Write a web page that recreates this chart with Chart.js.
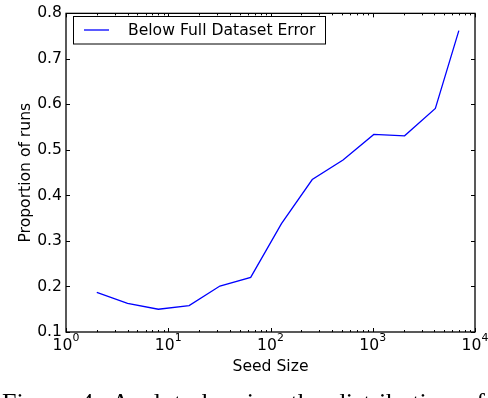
<!DOCTYPE html>
<html>
<head>
<meta charset="UTF-8">
<script src="https://cdn.jsdelivr.net/npm/chart.js@4.4.1/dist/chart.umd.min.js"></script>
<style>
html, body { margin:0; padding:0; background:#fff; }
#wrap { width:488px; height:398px; }
</style>
</head>
<body>
<div id="wrap"><canvas id="canvas" width="488" height="398"></canvas></div>
<script>
// values
var seedSizes = [2, 4, 8, 16, 32, 64, 128, 256, 512, 1024, 2048, 4096, 6950];
var belowFull = [0.187, 0.163, 0.150, 0.158, 0.201, 0.220, 0.338, 0.435, 0.478, 0.534, 0.531, 0.591, 0.762];
var xDecades = [1, 10, 100, 1000, 10000];
var xExps = ['0', '1', '2', '3', '4'];
var yTicks = [0.1, 0.2, 0.3, 0.4, 0.5, 0.6, 0.7, 0.8];
var seriesName = 'Below Full Dataset Error';
var xTitle = 'Seed Size';
var yTitle = 'Proportion of runs';
var caption = 'Figure 4: A plot showing the distribution of';

var FONT = '"DejaVu Sans", sans-serif';
var FS = 15.6;

var points = seedSizes.map(function (s, i) { return { x: s, y: belowFull[i] }; });

// ticks, frame, x labels, titles, legend, caption
var decor = {
    id: 'decor',
    afterDraw: function (chart) {
        var ctx = chart.ctx;
        var a = chart.chartArea;
        var xs = chart.scales.x, ys = chart.scales.y;
        ctx.save();
        ctx.strokeStyle = '#000';
        ctx.lineWidth = 1;
        ctx.beginPath();
        // y major ticks, left and right, inward
        yTicks.forEach(function (v) {
            var p = Math.round(ys.getPixelForValue(v)) + 0.5;
            ctx.moveTo(a.left, p); ctx.lineTo(a.left + 4, p);
            ctx.moveTo(a.right, p); ctx.lineTo(a.right - 4, p);
        });
        // x major and minor ticks, top and bottom
        xDecades.forEach(function (d, i) {
            var p = Math.round(xs.getPixelForValue(d)) + 0.5;
            ctx.moveTo(p, a.bottom); ctx.lineTo(p, a.bottom - 4);
            ctx.moveTo(p, a.top); ctx.lineTo(p, a.top + 4);
            if (i < xDecades.length - 1) {
                for (var m = 2; m <= 9; m++) {
                    var q = Math.round(xs.getPixelForValue(d * m)) + 0.5;
                    ctx.moveTo(q, a.bottom); ctx.lineTo(q, a.bottom - 2);
                    ctx.moveTo(q, a.top); ctx.lineTo(q, a.top + 2);
                }
            }
        });
        ctx.stroke();
        // frame
        ctx.lineWidth = 1.3;
        ctx.strokeRect(a.left, a.top, a.right - a.left, a.bottom - a.top);

        ctx.fillStyle = '#000';
        // x tick labels 10^n
        ctx.textBaseline = 'alphabetic';
        ctx.textAlign = 'left';
        xDecades.forEach(function (d, i) {
            var p = xs.getPixelForValue(d);
            ctx.font = FS + 'px ' + FONT;
            var w1 = ctx.measureText('10').width;
            ctx.font = (FS * 0.7) + 'px ' + FONT;
            var w2 = ctx.measureText(xExps[i]).width;
            var x0 = p - (w1 + w2) / 2;
            ctx.font = FS + 'px ' + FONT;
            ctx.fillText('10', x0, 349.5);
            ctx.font = (FS * 0.7) + 'px ' + FONT;
            ctx.fillText(xExps[i], x0 + w1, 341);
        });
        // axis titles
        ctx.font = FS + 'px ' + FONT;
        ctx.textAlign = 'center';
        ctx.fillText(xTitle, (a.left + a.right) / 2, 371);
        ctx.save();
        ctx.translate(29.5, (a.top + a.bottom) / 2);
        ctx.rotate(-Math.PI / 2);
        ctx.fillText(yTitle, 0, 0);
        ctx.restore();

        // legend
        ctx.fillStyle = '#fff';
        ctx.fillRect(73, 16, 252, 28);
        ctx.lineWidth = 1;
        ctx.strokeStyle = '#000';
        ctx.strokeRect(73.5, 16.5, 252, 27.5);
        ctx.strokeStyle = '#0000ff';
        ctx.lineWidth = 1.3;
        ctx.beginPath();
        ctx.moveTo(84, 30); ctx.lineTo(109, 30);
        ctx.stroke();
        ctx.fillStyle = '#000';
        ctx.textAlign = 'left';
        ctx.textBaseline = 'middle';
        ctx.fillText(seriesName, 128, 30.5);

        // caption, cut off by the bottom edge
        ctx.font = '26px "Liberation Serif", serif';
        ctx.textBaseline = 'alphabetic';
        var words = caption.split(' ');
        var tot = 0;
        words.forEach(function (w) { tot += ctx.measureText(w).width; });
        var gap = (485 - 2 - tot) / (words.length - 1);
        var cx = 2;
        words.forEach(function (w) {
            ctx.fillText(w, cx, 411);
            cx += ctx.measureText(w).width + gap;
        });
        ctx.restore();
    }
};

new Chart(document.getElementById('canvas').getContext('2d'), {
    type: 'line',
    data: {
        datasets: [{
            label: seriesName,
            data: points,
            borderColor: '#0000ff',
            borderWidth: 1.3,
            pointRadius: 0,
            fill: false,
            tension: 0
        }]
    },
    options: {
        responsive: false,
        animation: false,
        devicePixelRatio: 1,
        layout: { padding: { left: 0, right: 13, top: 8, bottom: 0 } },
        plugins: { legend: { display: false }, tooltip: { enabled: false } },
        scales: {
            x: {
                type: 'logarithmic',
                min: 1, max: 10000,
                grid: { display: false },
                border: { display: false },
                ticks: { display: false },
                afterFit: function (s) { s.height = 66; }
            },
            y: {
                min: 0.1, max: 0.8,
                grid: { display: false, drawTicks: false },
                border: { display: false },
                afterBuildTicks: function (s) { s.ticks = yTicks.map(function (v) { return { value: v }; }); },
                ticks: {
                    padding: 4,
                    color: '#000',
                    font: { family: FONT, size: FS },
                    callback: function (v) { return Number(v).toFixed(1); }
                },
                afterFit: function (s) { s.width = 66; }
            }
        }
    },
    plugins: [decor]
});
</script>
</body>
</html>
